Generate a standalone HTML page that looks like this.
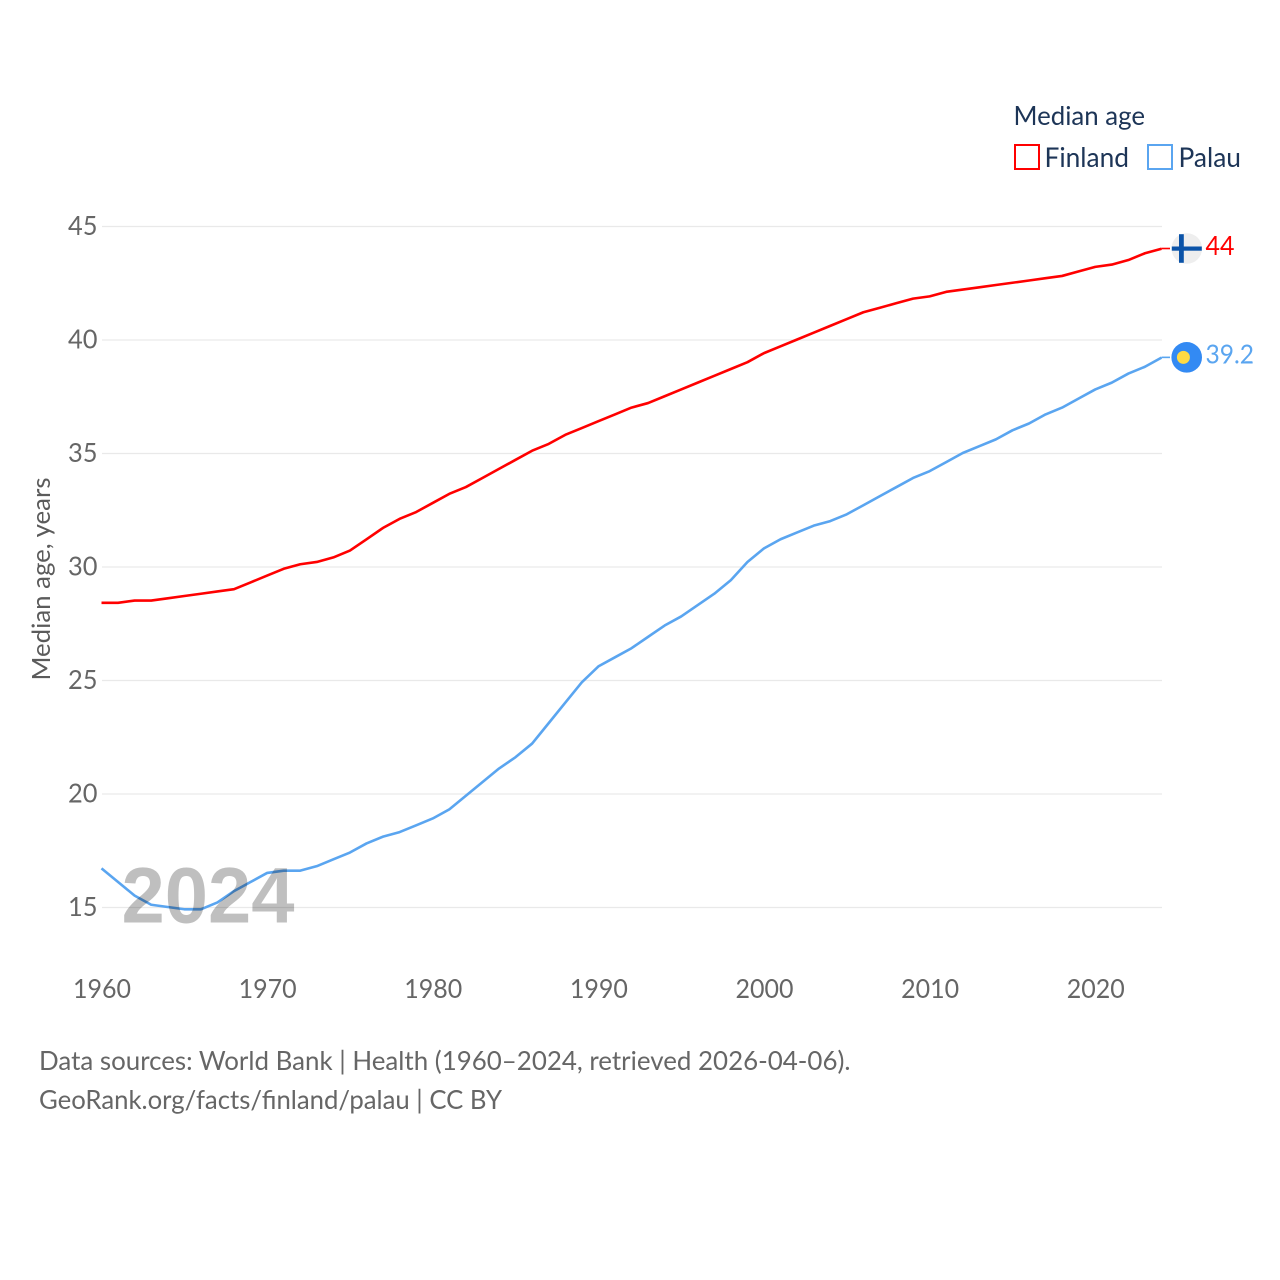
<!DOCTYPE html>
<html lang="en">
<head>
<meta charset="utf-8">
<title>Median age: Finland and Palau</title>
<style>
html,body{margin:0;padding:0;background:#fff;}
svg{display:block;font-family:"Lato","Carlito","Liberation Sans",sans-serif;}
</style>
</head>
<body>
<svg id="chart" width="1280" height="1280" viewBox="0 0 1280 1280" xmlns="http://www.w3.org/2000/svg">
  <rect width="1280" height="1280" fill="#fff"/>
  <g id="grid"></g>
  <g id="yticks"></g>
  <g id="xticks"></g>
  <g id="lines"></g>

  <text x="121.5" y="922.5" font-family="'Liberation Sans',sans-serif" font-size="79" font-weight="700" fill="#000" fill-opacity="0.25" textLength="173" lengthAdjust="spacingAndGlyphs">2024</text>

  <text transform="translate(50,680.5) rotate(-90)" font-size="25" fill="#5b5b5b" textLength="203" lengthAdjust="spacingAndGlyphs">Median age, years</text>

  <g>
    <text x="1013.5" y="125" font-size="26.5" fill="#1d3557" textLength="131.5" lengthAdjust="spacingAndGlyphs">Median age</text>
    <rect x="1015" y="145" width="24" height="24" fill="#fff" stroke="#ff0000" stroke-width="2"/>
    <text x="1044.5" y="167" font-size="27" fill="#1d3557" textLength="84.5" lengthAdjust="spacingAndGlyphs">Finland</text>
    <rect x="1148" y="145" width="24" height="24" fill="#fff" stroke="#5aa5f0" stroke-width="2"/>
    <text x="1178.5" y="167" font-size="27" fill="#1d3557" textLength="62.5" lengthAdjust="spacingAndGlyphs">Palau</text>
  </g>

  <g id="endmarks"></g>

  <g>
    <text x="39" y="1070" font-size="26.5" fill="#666" textLength="811.5" lengthAdjust="spacingAndGlyphs">Data sources: World Bank | Health (1960–2024, retrieved 2026-04-06).</text>
    <text x="39" y="1109" font-size="26.5" fill="#666" textLength="463" lengthAdjust="spacingAndGlyphs">GeoRank.org/facts/finland/palau | CC BY</text>
  </g>
</svg>
<script>
const years = [1960,1961,1962,1963,1964,1965,1966,1967,1968,1969,1970,1971,1972,1973,1974,1975,1976,1977,1978,1979,1980,1981,1982,1983,1984,1985,1986,1987,1988,1989,1990,1991,1992,1993,1994,1995,1996,1997,1998,1999,2000,2001,2002,2003,2004,2005,2006,2007,2008,2009,2010,2011,2012,2013,2014,2015,2016,2017,2018,2019,2020,2021,2022,2023,2024];
const finland = [28.4,28.4,28.5,28.5,28.6,28.7,28.8,28.9,29.0,29.3,29.6,29.9,30.1,30.2,30.4,30.7,31.2,31.7,32.1,32.4,32.8,33.2,33.5,33.9,34.3,34.7,35.1,35.4,35.8,36.1,36.4,36.7,37.0,37.2,37.5,37.8,38.1,38.4,38.7,39.0,39.4,39.7,40.0,40.3,40.6,40.9,41.2,41.4,41.6,41.8,41.9,42.1,42.2,42.3,42.4,42.5,42.6,42.7,42.8,43.0,43.2,43.3,43.5,43.8,44.0];
const palau = [16.7,16.1,15.5,15.1,15.0,14.9,14.9,15.2,15.7,16.1,16.5,16.6,16.6,16.8,17.1,17.4,17.8,18.1,18.3,18.6,18.9,19.3,19.9,20.5,21.1,21.6,22.2,23.1,24.0,24.9,25.6,26.0,26.4,26.9,27.4,27.8,28.3,28.8,29.4,30.2,30.8,31.2,31.5,31.8,32.0,32.3,32.7,33.1,33.5,33.9,34.2,34.6,35.0,35.3,35.6,36.0,36.3,36.7,37.0,37.4,37.8,38.1,38.5,38.8,39.2];
const yTickValues = [15,20,25,30,35,40,45];
const xTickValues = [1960,1970,1980,1990,2000,2010,2020];

const NS = 'http://www.w3.org/2000/svg';
function xScale(year){ return 101.5 + (year - 1960) * (1161.5 - 101.5) / 64; }
function yScale(v){ return 907.5 - (v - 15) * (907.5 - 226.5) / 30; }
function make(tag, attrs, parent, text){
  const el = document.createElementNS(NS, tag);
  for (const k in attrs) el.setAttribute(k, attrs[k]);
  if (text !== undefined) el.textContent = text;
  parent.appendChild(el);
  return el;
}

const grid = document.getElementById('grid');
const yticks = document.getElementById('yticks');
yTickValues.forEach(function(v){
  const g = make('line', {x1:102, x2:1162, y1:yScale(v), y2:yScale(v), stroke:'#e9e9e9', 'stroke-width':1.2}, grid);
  
  
  const t = make('text', {x:97.5, y:yScale(v) + 8.5, 'text-anchor':'end', 'font-size':26, fill:'#666', textLength:29.5, lengthAdjust:'spacingAndGlyphs'}, yticks, String(v));
  
  
});

const xticks = document.getElementById('xticks');
xTickValues.forEach(function(v){
  const t = make('text', {x:xScale(v) + 0.5, y:998, 'text-anchor':'middle', 'font-size':26, fill:'#666', textLength:58, lengthAdjust:'spacingAndGlyphs'}, xticks, String(v));
  
  
});

function pathFor(values){
  return values.map(function(v, i){
    return (i ? 'L' : 'M') + xScale(years[i]).toFixed(2) + ' ' + (yScale(v) - 0.5).toFixed(2);
  }).join(' ');
}

const lines = document.getElementById('lines');
const palauLine = make('path', {d:pathFor(palau), fill:'none', stroke:'#5aa5f0', 'stroke-width':2.6, 'stroke-linejoin':'round'}, lines);


const finlandLine = make('path', {d:pathFor(finland), fill:'none', stroke:'#ff0000', 'stroke-width':2.6, 'stroke-linejoin':'round'}, lines);



const marks = document.getElementById('endmarks');
const lastFinland = finland[finland.length - 1];
const lastPalau = palau[palau.length - 1];
const fy = yScale(lastFinland) - 0.7;
const py = yScale(lastPalau) - 0.8;

const fc = make('line', {x1:1161.5, x2:1170, y1:fy, y2:fy, stroke:'#ff0000', 'stroke-width':1.6}, marks);


const pc = make('line', {x1:1161.5, x2:1170, y1:py, y2:py, stroke:'#5aa5f0', 'stroke-width':1.6}, marks);



const flagF = make('g', {}, marks);


make('circle', {cx:1186.8, cy:fy, r:15.3, fill:'#eeeeee'}, flagF);
make('rect', {x:1171.8, y:fy - 2, width:30, height:4.2, fill:'#0b53a8'}, flagF);
make('rect', {x:1179, y:fy - 14.3, width:4.8, height:28.6, fill:'#0b53a8'}, flagF);

const flagP = make('g', {}, marks);


make('circle', {cx:1186.7, cy:py, r:15.3, fill:'#338af3'}, flagP);
make('circle', {cx:1183.4, cy:py, r:6.5, fill:'#ffda44'}, flagP);

const fl = make('text', {x:1205.5, y:fy + 6.7, 'font-size':26, fill:'#ff0000', textLength:29, lengthAdjust:'spacingAndGlyphs'}, marks, String(lastFinland));


const pl = make('text', {x:1205.5, y:py + 6, 'font-size':26, fill:'#5aa5f0', textLength:48.5, lengthAdjust:'spacingAndGlyphs'}, marks, lastPalau.toFixed(1));


</script>
</body>
</html>
